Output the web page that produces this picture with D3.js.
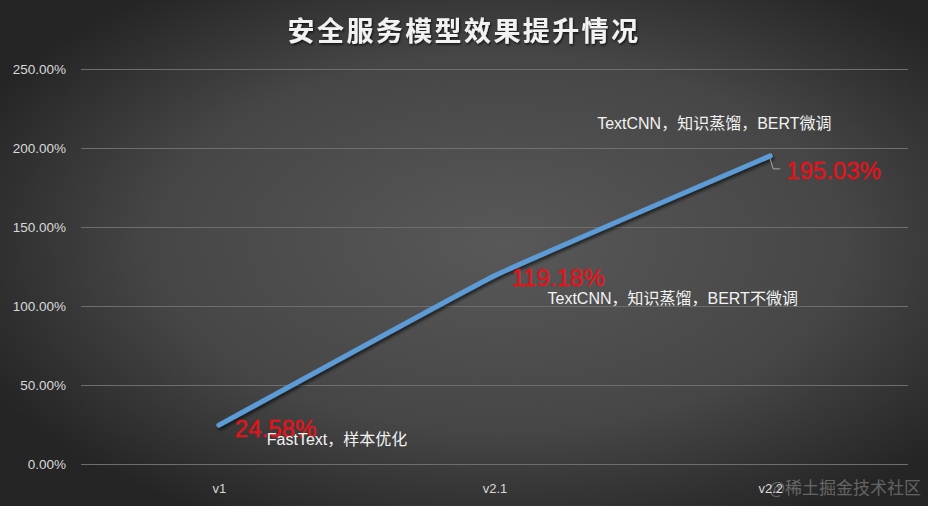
<!DOCTYPE html>
<html>
<head>
<meta charset="utf-8">
<script src="https://cdn.jsdelivr.net/npm/d3@7"></script>
<style>
  html, body { margin: 0; padding: 0; background: #333; }
  svg { display: block; }
</style>
</head>
<body>
<div id="chart"></div>
<script>
(function () {

    // versions on the x axis
    var versions = ["v1", "v2.1", "v2.2"];
    // improvement in percent
    var gains = [24.58, 119.18, 195.03];
    // what changed in each version
    var notes = ["FastText，样本优化", "TextCNN，知识蒸馏，BERT不微调", "TextCNN，知识蒸馏，BERT微调"];
    // y axis ticks
    var yTicks = [0, 50, 100, 150, 200, 250];

    var width = 928, height = 506;
    var margin = { top: 69, right: 20, bottom: 42, left: 81 };

    var svg = d3.select("#chart").append("svg")
        .attr("width", width)
        .attr("height", height)
        .attr("font-family", "'Liberation Sans', 'Noto Sans CJK SC', sans-serif");

    var defs = svg.append("defs");

    // dark backdrop, lighter in the middle
    var bg = defs.append("radialGradient")
        .attr("id", "bg")
        .attr("cx", "54%").attr("cy", "48%")
        .attr("r", "62%");
    bg.append("stop").attr("offset", "0%").attr("stop-color", "#585858");
    bg.append("stop").attr("offset", "60%").attr("stop-color", "#464646");
    bg.append("stop").attr("offset", "100%").attr("stop-color", "#252525");

    var shadow = defs.append("filter").attr("id", "shadow")
        .attr("x", "-10%").attr("y", "-10%").attr("width", "120%").attr("height", "130%");
    shadow.append("feDropShadow")
        .attr("dx", 1.5).attr("dy", 2.5).attr("stdDeviation", 1.6)
        .attr("flood-color", "#000").attr("flood-opacity", 0.6);

    var txtShadow = defs.append("filter").attr("id", "txtshadow");
    txtShadow.append("feDropShadow")
        .attr("dx", 1).attr("dy", 1.5).attr("stdDeviation", 1)
        .attr("flood-color", "#000").attr("flood-opacity", 0.7);

    svg.append("rect")
        .attr("width", width).attr("height", height)
        .attr("fill", "url(#bg)");

    var x = d3.scalePoint()
        .domain(versions)
        .range([margin.left, width - margin.right])
        .padding(0.5);

    var y = d3.scaleLinear()
        .domain([0, 250])
        .range([height - margin.bottom, margin.top]);

    // title
    svg.append("text")
        .attr("x", 464)
        .attr("y", 41)
        .attr("text-anchor", "middle")
        .attr("fill", "#f2f2f2")
        .attr("font-size", 27)
        .attr("font-weight", "bold")
        .attr("letter-spacing", 2.4)
        .attr("font-family", "'Noto Sans CJK SC', sans-serif")
        .attr("filter", "url(#txtshadow)")
        .text("安全服务模型效果提升情况");

    // gridlines + y labels
    var yAxis = svg.append("g")
        .attr("transform", "translate(" + margin.left + ",0)")
        .call(d3.axisLeft(y)
            .tickValues(yTicks)
            .tickSize(-(width - margin.left - margin.right))
            .tickPadding(15)
            .tickFormat(function (d) { return d3.format(".2f")(d) + "%"; }));
    yAxis.select(".domain").remove();
    yAxis.selectAll(".tick line")
        .attr("stroke", "#6e6e6e")
        .attr("stroke-width", 1)
        .attr("x2", 827);
    yAxis.selectAll(".tick text")
        .attr("fill", "#d9d9d9")
        .attr("font-size", 13.5)
        .attr("font-family", "'Liberation Sans', sans-serif");

    // x labels
    var xAxis = svg.append("g")
        .attr("transform", "translate(0," + (height - margin.bottom) + ")")
        .call(d3.axisBottom(x).tickSize(0).tickPadding(20));
    xAxis.select(".domain").remove();
    xAxis.selectAll(".tick text")
        .attr("fill", "#d9d9d9")
        .attr("font-size", 13)
        .attr("font-family", "'Liberation Sans', sans-serif");

    var pts = versions.map(function (v, i) {
        return { name: v, value: gains[i], note: notes[i] };
    });

    // lightly smoothed line like Excel
    var line = d3.line()
        .x(function (d) { return x(d.name); })
        .y(function (d) { return y(d.value); })
        .curve(d3.curveCardinal.tension(0.75));

    svg.append("path")
        .datum(pts)
        .attr("fill", "none")
        .attr("stroke", "#5b9bd5")
        .attr("stroke-width", 5)
        .attr("stroke-linecap", "round")
        .attr("stroke-linejoin", "round")
        .attr("filter", "url(#shadow)")
        .attr("d", line);

    // label offsets relative to each point
    var valOff = [[16, 12], [17, 10], [16, 23]];
    var noteOff = [[48, 20], [53, 28], [-173, -27]];

    // leader line for the last label
    var last = pts[2];
    svg.append("path")
        .attr("fill", "none")
        .attr("stroke", "#a6a6a6")
        .attr("stroke-width", 1)
        .attr("d", "M" + x(last.name) + "," + (y(last.value) + 3) +
            "L" + (x(last.name) + 3) + "," + (y(last.value) + 13) +
            "L" + (x(last.name) + 10) + "," + (y(last.value) + 13));

    svg.selectAll("text.val")
        .data(pts)
        .enter().append("text")
        .attr("class", "val")
        .attr("x", function (d, i) { return x(d.name) + valOff[i][0]; })
        .attr("y", function (d, i) { return y(d.value) + valOff[i][1]; })
        .attr("fill", "#e3131b")
        .attr("stroke", "#e3131b")
        .attr("stroke-width", 0.4)
        .attr("font-size", 24)
        .attr("font-family", "'Liberation Sans', sans-serif")
        .text(function (d) { return d3.format(".2f")(d.value) + "%"; });

    svg.selectAll("text.note")
        .data(pts)
        .enter().append("text")
        .attr("class", "note")
        .attr("x", function (d, i) { return x(d.name) + noteOff[i][0]; })
        .attr("y", function (d, i) { return y(d.value) + noteOff[i][1]; })
        .attr("fill", "#f2f2f2")
        .attr("font-size", 16)
        .attr("font-family", "'Liberation Sans', 'Noto Sans CJK SC', sans-serif")
        .text(function (d) { return d.note; });

    // watermark
    svg.append("text")
        .attr("x", 921)
        .attr("y", 494)
        .attr("text-anchor", "end")
        .attr("fill", "#ffffff")
        .attr("fill-opacity", 0.3)
        .attr("font-size", 17)
        .attr("font-family", "'Noto Sans CJK SC', sans-serif")
        .text("@稀土掘金技术社区");

})();
</script>
</body>
</html>
